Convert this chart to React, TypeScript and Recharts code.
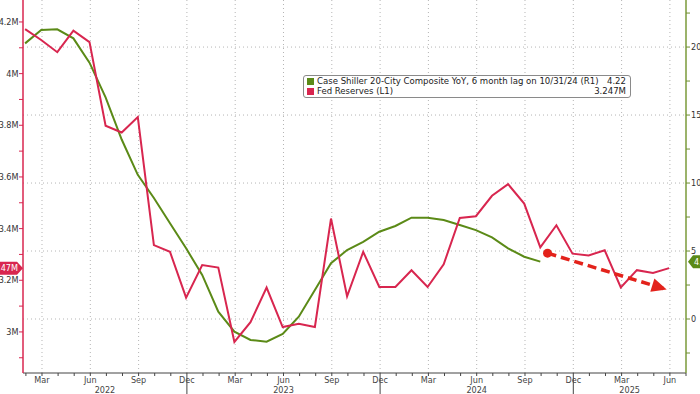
import React from 'react';
import { LineChart, Line, XAxis, YAxis, CartesianGrid, ReferenceLine, Legend } from 'recharts';

const FONT = "'Liberation Sans Narrow', 'DejaVu Sans Condensed', 'DejaVu Sans', sans-serif";
const RED = '#d8264f';
const GREEN = '#5b8a17';
const ARROW = '#e3221b';

// months offset relative to Mar 2022 (=0); first point is Jan 2022
const firstMonthOffset = -2;
// Fed Reserves Jan 2022 .. May 2025
const fedReserves = [
  4.172, 4.13, 4.083, 4.166, 4.122, 3.798, 3.772, 3.832, 3.336, 3.31, 3.133, 3.259,
  3.249, 2.961, 3.038, 3.172, 3.019, 3.032, 3.019, 3.439, 3.138, 3.31, 3.174, 3.174,
  3.239, 3.174, 3.262, 3.441, 3.448, 3.527, 3.572, 3.497, 3.327, 3.413, 3.303, 3.296,
  3.316, 3.172, 3.239, 3.228, 3.247,
];
// Case Shiller 20-City YoY (6 month lag) Jan 2022 .. Sep 2024
const caseShiller = [
  20.27, 21.25, 21.3, 20.64, 18.85, 16.3, 13.2, 10.6, 8.9, 7.04, 5.2, 3.24,
  0.54, -0.93, -1.54, -1.67, -1.1, 0.17, 2.13, 4.1, 5.07, 5.68, 6.42, 6.84,
  7.45, 7.45, 7.28, 6.91, 6.54, 6.0, 5.2, 4.58, 4.22,
];
const monthLabels = ['Mar', 'Jun', 'Sep', 'Dec'];
const yearLabels = ['2022', '2023', '2024', '2025'];
const yearSeparators = [9, 21, 33];
const xDomain: [number, number] = [-1.18, 40];
const leftDomain: [number, number] = [2.841, 4.285];
const rightDomain: [number, number] = [-3.97, 23.46];
const arrowX = [31.4, 38.8];
const arrowY = [3.305, 3.164];
const legendRows = [
  { label: 'Case Shiller 20-City Composite YoY, 6 month lag on 10/31/24 (R1)', value: '4.22', color: GREEN },
  { label: 'Fed Reserves (L1)', value: '3.247M', color: RED },
];

const data = fedReserves.map((v, i) => ({
  x: firstMonthOffset + i + 0.95,
  fed: v,
  cs: i < caseShiller.length ? caseShiller[i] : null,
}));
const arrowData = arrowX.map((x, i) => ({ x, y: arrowY[i] }));

const xTicks: number[] = [];
for (let t = -1; t <= 40; t++) xTicks.push(t);
const gridX: number[] = xTicks.filter((t) => t >= 0 && t % 3 === 0);
const leftTicks: number[] = [];
for (let k = 29; k <= 42; k++) leftTicks.push(k / 10);
const rightTicks: number[] = [];
for (let k = -1; k <= 9; k++) rightTicks.push(k * 2.5);
const gridY = rightTicks.filter((v) => v % 5 === 0);
const yearBounds = [xDomain[0], ...yearSeparators, xDomain[1]];
const yearTicks = yearLabels.map((_, i) => (yearBounds[i] + yearBounds[i + 1]) / 2);

const FS = 9;

const MonthTick = (props: any) => {
  const { x, y, payload } = props;
  const t = payload.value;
  const labelled = t >= 0 && t % 3 === 0;
  const isSep = yearSeparators.includes(t);
  return (
    <g>
      <line x1={x} x2={x} y1={y} y2={y + (isSep ? 21 : 3)} stroke="#444" strokeWidth={1} />
      {labelled && (
        <text x={x} y={y + 10} textAnchor="middle" fontSize={FS} fill="#444" fontFamily={FONT}>
          {monthLabels[(t / 3) % 4]}
        </text>
      )}
    </g>
  );
};

const YearTick = (props: any) => {
  const { x, y, index } = props;
  return (
    <text x={x} y={y + 9} textAnchor="middle" fontSize={FS} fill="#444" fontFamily={FONT}>
      {yearLabels[index]}
    </text>
  );
};

const LeftTick = (props: any) => {
  const { x, y, payload } = props;
  const v = payload.value;
  const major = Math.round(v * 10) % 2 === 0;
  return (
    <g>
      <line x1={x - 4} x2={x} y1={y} y2={y} stroke={RED} strokeWidth={1} />
      {major && (
        <text x={x - 4.5} y={y} dy="0.35em" textAnchor="end" fontSize={FS} fill="#333" fontFamily={FONT}>
          {`${Number(v.toFixed(1))}M`}
        </text>
      )}
    </g>
  );
};

const RightTick = (props: any) => {
  const { x, y, payload } = props;
  const v = payload.value;
  const major = v % 5 === 0;
  return (
    <g>
      <line x1={x} x2={x + 4} y1={y} y2={y} stroke="#6f8f32" strokeWidth={1} />
      {major && (
        <text x={x + 5} y={y} dy="0.35em" textAnchor="start" fontSize={FS} fill="#333" fontFamily={FONT}>
          {v}
        </text>
      )}
    </g>
  );
};

const LeftTag = (props: any) => {
  const { viewBox } = props;
  const x = viewBox.x;
  const y = viewBox.y;
  const h = 13;
  return (
    <g>
      <polygon
        points={`${x - 70},${y - h / 2} ${x - 6},${y - h / 2} ${x},${y} ${x - 6},${y + h / 2} ${x - 70},${y + h / 2}`}
        fill={RED}
      />
      <text x={x - 5} y={y} dy="0.35em" textAnchor="end" fontSize={FS} fill="#fff" fontFamily={FONT}>
        {legendRows[1].value}
      </text>
    </g>
  );
};

const RightTag = (props: any) => {
  const { viewBox } = props;
  const x = viewBox.x + viewBox.width + 2;
  const y = viewBox.y;
  const h = 13;
  return (
    <g>
      <polygon
        points={`${x},${y} ${x + 5},${y - h / 2} ${x + 40},${y - h / 2} ${x + 40},${y + h / 2} ${x + 5},${y + h / 2}`}
        fill={GREEN}
      />
      <text x={x + 6} y={y} dy="0.35em" textAnchor="start" fontSize={FS} fill="#fff" fontFamily={FONT}>
        {legendRows[0].value}
      </text>
    </g>
  );
};

const ArrowDot = (props: any) => {
  const { cx, cy, index, points } = props;
  if (cx == null || cy == null) return <g key={`a-${index}`} />;
  if (index === 0) return <circle key={`a-${index}`} cx={cx} cy={cy} r={4.5} fill={ARROW} />;
  let ang = 0.29;
  if (points && points.length > 1) {
    ang = Math.atan2(points[1].y - points[0].y, points[1].x - points[0].x);
  }
  const L = 15;
  const W = 7;
  const bx = cx - L * Math.cos(ang);
  const by = cy - L * Math.sin(ang);
  const px = -Math.sin(ang);
  const py = Math.cos(ang);
  return (
    <polygon
      key={`a-${index}`}
      points={`${cx},${cy} ${bx + W * px},${by + W * py} ${bx - W * px},${by - W * py}`}
      fill={ARROW}
    />
  );
};

const LegendBox = () => (
  <div
    style={{
      width: 319,
      border: '1px solid #8a8a8a',
      borderRadius: 3,
      background: '#fff',
      padding: '0px 4px 1px 3px',
      fontFamily: FONT,
      fontSize: 9.5,
      lineHeight: '10px',
      color: '#222',
    }}
  >
    {legendRows.map((r) => (
      <div key={r.label} style={{ display: 'flex', alignItems: 'center', height: 10 }}>
        <span
          style={{ width: 7, height: 7, flexShrink: 0, background: r.color, marginRight: 3, display: 'inline-block' }}
        />
        <span style={{ flex: 1, whiteSpace: 'nowrap' }}>{r.label}</span>
        <span style={{ flexShrink: 0 }}>{r.value}</span>
      </div>
    ))}
  </div>
);

export default function App() {
  return (
    <div style={{ position: 'absolute', left: 0, top: 0, width: 700, height: 394, background: '#fff' }}>
      <LineChart width={700} height={394} data={data} margin={{ top: 0, right: 0, bottom: 0, left: 0 }}>
        <CartesianGrid
          yAxisId="right"
          stroke="#b5b5b5"
          strokeDasharray="1 3"
          verticalValues={gridX}
          horizontalValues={gridY}
          syncWithTicks={false}
        />
        <XAxis
          dataKey="x"
          type="number"
          domain={xDomain}
          allowDataOverflow
          ticks={xTicks}
          interval={0}
          height={11}
          tickSize={0}
          tickMargin={0}
          tickLine={false}
          tick={<MonthTick />}
          axisLine={{ stroke: '#444', strokeWidth: 1 }}
        />
        <XAxis
          xAxisId="yr"
          type="number"
          dataKey="x"
          domain={xDomain}
          allowDataOverflow
          ticks={yearTicks}
          interval={0}
          height={10}
          tickSize={0}
          tickMargin={0}
          tickLine={false}
          axisLine={false}
          tick={<YearTick />}
        />
        <YAxis
          yAxisId="left"
          orientation="left"
          width={23}
          domain={leftDomain}
          allowDataOverflow
          ticks={leftTicks}
          interval={0}
          tickSize={0}
          tickMargin={0}
          tickLine={false}
          tick={<LeftTick />}
          axisLine={{ stroke: RED, strokeWidth: 1.5 }}
        />
        <YAxis
          yAxisId="right"
          orientation="right"
          width={14}
          domain={rightDomain}
          allowDataOverflow
          ticks={rightTicks}
          interval={0}
          tickSize={0}
          tickMargin={0}
          tickLine={false}
          tick={<RightTick />}
          axisLine={{ stroke: '#7a9a3a', strokeWidth: 1.5 }}
        />
        <Legend
          layout="vertical"
          align="center"
          verticalAlign="middle"
          wrapperStyle={{ position: 'absolute', left: 303, top: 75, width: 'auto', height: 'auto' }}
          content={<LegendBox />}
        />
        <Line
          yAxisId="right"
          dataKey="cs"
          stroke={GREEN}
          strokeWidth={2}
          dot={false}
          isAnimationActive={false}
          type="linear"
        />
        <Line
          yAxisId="left"
          dataKey="fed"
          stroke={RED}
          strokeWidth={2}
          dot={false}
          isAnimationActive={false}
          type="linear"
        />
        <Line
          yAxisId="left"
          data={arrowData}
          dataKey="y"
          stroke={ARROW}
          strokeWidth={3.5}
          strokeDasharray="9 5"
          dot={<ArrowDot />}
          isAnimationActive={false}
          type="linear"
        />
        <ReferenceLine
          yAxisId="left"
          y={fedReserves[fedReserves.length - 1]}
          stroke="none"
          ifOverflow="visible"
          label={<LeftTag />}
        />
        <ReferenceLine
          yAxisId="right"
          y={caseShiller[caseShiller.length - 1]}
          stroke="none"
          ifOverflow="visible"
          label={<RightTag />}
        />
      </LineChart>
    </div>
  );
}
